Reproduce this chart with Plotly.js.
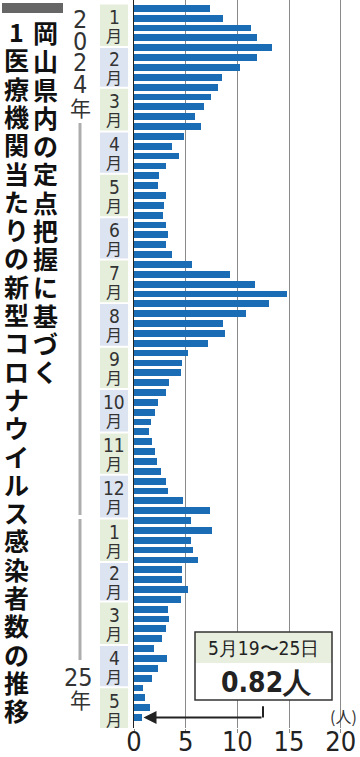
<!DOCTYPE html>
<html><head><meta charset="utf-8">
<script src="https://cdn.plot.ly/plotly-3.0.1.min.js"></script>
<style>html,body{margin:0;padding:0;background:#fff}#chart{width:360px;height:757px}</style>
</head><body><div id="chart"></div>
<script>
// ---- data ----
const firstWeekStart = '2024-01-01';           // week of Jan 1-7, 2024 (weekly series)
const weeklyCases = [
  7.40, 8.62, 11.35, 11.89, 13.37, 11.86, 10.22, 8.53, 8.14, 7.47, 6.79, 5.93, 6.51,
  4.84, 3.69, 4.36, 3.11, 2.40, 2.31, 3.14, 2.95, 2.76, 3.14, 3.27, 3.14, 3.69,
  5.58, 9.29, 11.67, 14.84, 13.04, 10.80, 8.65, 8.85, 7.18, 5.22, 4.62, 4.55, 3.43,
  3.14, 2.28, 1.99, 1.60, 1.44, 1.76, 2.02, 2.21, 2.63, 3.14, 3.30, 4.78, 7.40,
  5.48, 7.50, 5.51, 5.71, 6.15, 4.65, 4.65, 5.19, 4.55, 3.27, 3.43, 3.11, 2.72,
  1.89, 3.24, 2.31, 1.76, 0.87, 1.09, 1.57, 0.82
];
const xTickVals = [0, 5, 10, 15, 20];
const xTickText = ['0', '5', '10', '15', '20'];
const monthLabels = ['1','2','3','4','5','6','7','8','9','10','11','12','1','2','3','4','5'];
const yearLabel2024 = ['2', '0', '2', '4', '年'];
const yearLabel2025 = ['25', '年'];
const titleRight = '岡山県内の定点把握に基づく';
const titleLeft = '1医療機関当たりの新型コロナウイルス感染者数の推移';
const calloutPeriod = '5月19〜25日';
const unitLabel = '(人)';

// ---- geometry helpers ----
const W = 360, H = 757, L = 134, R = 9, T = 0, B = 29;
const plotW = W - L - R, plotH = H - T - B;
const px2x = p => (p - L) / plotW;
const px2y = p => (plotH + T - p) / plotH;
const DAY = 86400000;
const startMs = Date.parse(firstWeekStart + 'T00:00:00Z');
const fmt = ms => new Date(ms).toISOString().slice(0, 19).replace('T', ' ');

const weekMid = weeklyCases.map((_, i) => fmt(startMs + (i * 7 + 3.5) * DAY));
const lastVal = weeklyCases[weeklyCases.length - 1];
const lastDate = weekMid[weekMid.length - 1];

const digitFont = 'Liberation Sans Narrow, DejaVu Sans Condensed, Roboto, sans-serif';
const cjkFont = 'Noto Sans CJK JP, sans-serif';

const shapes = [];
const annotations = [];
const txt = o => annotations.push(Object.assign({showarrow: false, xanchor: 'center', yanchor: 'middle'}, o));

// month boxes + labels
monthLabels.forEach((m, k) => {
  const s = Date.UTC(2024, k, 1), e = Date.UTC(2024, k + 1, 1);
  shapes.push({type: 'rect', xref: 'paper', yref: 'y', layer: 'below',
    x0: px2x(100), x1: px2x(128), y0: fmt(s + 0.7 * DAY), y1: fmt(e - 0.7 * DAY),
    fillcolor: k % 2 === 0 ? '#e5eedb' : '#dde4f1', line: {width: 0}});
  const mid = fmt((s + e) / 2);
  txt({xref: 'paper', yref: 'y', x: px2x(114), y: mid, yshift: 8.5, text: m,
    font: {family: digitFont, size: 19, color: '#333'}});
  txt({xref: 'paper', yref: 'y', x: px2x(114), y: mid, yshift: -9.5, text: '月',
    font: {family: cjkFont, size: 16, color: '#333'}});
});

// year labels
const y24 = [19, 41, 62.5, 84, 107];
yearLabel2024.forEach((c, i) => {
  txt({xref: 'paper', yref: 'paper', x: px2x(80), y: px2y(y24[i]), text: c,
    font: {family: c === '年' ? cjkFont : digitFont, size: c === '年' ? 21 : 25, color: '#333'}});
});
txt({xref: 'paper', yref: 'paper', x: px2x(78), y: px2y(677), text: yearLabel2025[0],
  font: {family: digitFont, size: 25, color: '#333'}});
txt({xref: 'paper', yref: 'paper', x: px2x(80), y: px2y(699), text: yearLabel2025[1],
  font: {family: cjkFont, size: 21, color: '#333'}});
shapes.push({type: 'line', xref: 'paper', yref: 'paper', x0: px2x(80), x1: px2x(80),
  y0: px2y(123), y1: px2y(515), line: {color: '#adadad', width: 3}});
shapes.push({type: 'line', xref: 'paper', yref: 'paper', x0: px2x(80), x1: px2x(80),
  y0: px2y(519), y1: px2y(660), line: {color: '#adadad', width: 3}});

// title (vertical columns)
shapes.push({type: 'rect', xref: 'paper', yref: 'paper', x0: px2x(2), x1: px2x(63),
  y0: px2y(13), y1: px2y(3), fillcolor: '#666', line: {width: 0}});
[...titleRight].forEach((c, i) => {
  txt({xref: 'paper', yref: 'paper', x: px2x(45), y: px2y(32 + 28.25 * i), text: c,
    font: {family: cjkFont, size: 25, weight: 700, color: '#111'}});
});
[...titleLeft].forEach((c, i) => {
  txt({xref: 'paper', yref: 'paper', x: px2x(16), y: px2y(31 + 28.3 * i), text: c,
    font: {family: cjkFont, size: 25, weight: 700, color: '#111'}});
});

// callout
shapes.push({type: 'rect', xref: 'paper', yref: 'paper', layer: 'above', x0: px2x(195), x1: px2x(332),
  y0: px2y(700), y1: px2y(632), fillcolor: '#fff', line: {width: 0}});
shapes.push({type: 'rect', xref: 'paper', yref: 'paper', layer: 'above', x0: px2x(195), x1: px2x(332),
  y0: px2y(663), y1: px2y(632), fillcolor: '#e8efdf', line: {width: 0}});
shapes.push({type: 'rect', xref: 'paper', yref: 'paper', layer: 'above', x0: px2x(195), x1: px2x(332),
  y0: px2y(700), y1: px2y(632), fillcolor: 'rgba(0,0,0,0)', line: {color: '#333', width: 1.5}});
shapes.push({type: 'line', xref: 'paper', yref: 'y', layer: 'above', x0: px2x(263), x1: px2x(263),
  y0: fmt(Date.parse(lastDate.replace(' ', 'T') + 'Z') - 8 * DAY), y1: lastDate, line: {color: '#222', width: 2}});
txt({xref: 'paper', yref: 'paper', x: px2x(263.5), y: px2y(648), text: calloutPeriod,
  font: {family: digitFont, size: 19, color: '#222'}});
txt({xref: 'paper', yref: 'paper', x: px2x(266), y: px2y(682), text: lastVal.toFixed(2) + '人',
  font: {family: digitFont, size: 28, weight: 700, color: '#222'}});
annotations.push({xref: 'x', yref: 'y', x: lastVal + 0.1, y: lastDate, text: '',
  showarrow: true, axref: 'pixel', ayref: 'pixel', ax: 263 - (L + (lastVal + 0.1) * plotW / 21), ay: 0,
  arrowhead: 2, arrowsize: 1.3, arrowwidth: 2, arrowcolor: '#222', standoff: 0});
txt({xref: 'paper', yref: 'paper', x: px2x(343), y: px2y(716), text: unitLabel,
  font: {family: cjkFont, size: 16, color: '#333'}});

const trace = {
  type: 'bar', orientation: 'h', x: weeklyCases, y: weekMid,
  width: 7 * 0.69 * DAY, marker: {color: '#1a6db5', line: {width: 0}}, hoverinfo: 'skip'
};

const layout = {
  width: W, height: H, margin: {l: L, r: R, t: T, b: B, pad: 0},
  paper_bgcolor: '#fff', plot_bgcolor: '#fff', showlegend: false,
  xaxis: {range: [0, 21], tickvals: xTickVals, ticktext: xTickText, showgrid: true, gridcolor: '#8a8a8a',
    gridwidth: 1, zeroline: false, showline: false, ticks: 'outside', ticklen: 4, tickcolor: '#8a8a8a',
    ticklabelstandoff: -14,
    tickfont: {family: digitFont, size: 27, color: '#222'}, fixedrange: true},
  yaxis: {type: 'date', autorange: false,
    range: [fmt(startMs + 514.96 * DAY), fmt(startMs - 2.42 * DAY)],
    showticklabels: false, showgrid: false, zeroline: false, ticks: '',
    showline: true, linecolor: '#222', linewidth: 1.5, fixedrange: true},
  shapes: shapes, annotations: annotations, bargap: 0
};

Plotly.newPlot('chart', [trace], layout, {displayModeBar: false, staticPlot: true});
</script>
</body></html>
